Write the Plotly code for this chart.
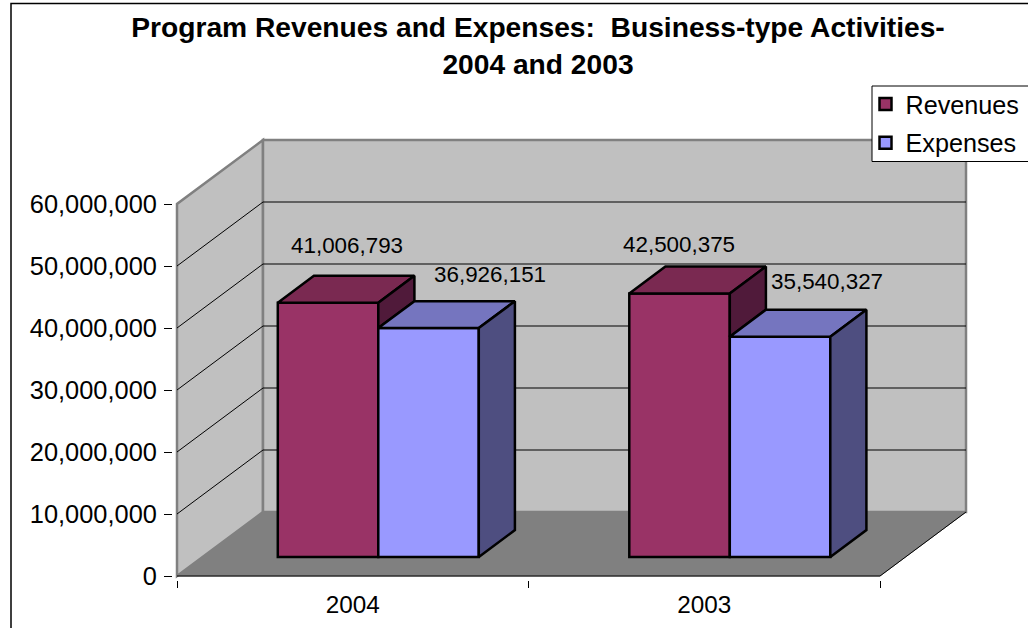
import plotly.graph_objects as go

# ---- data ----
years = ["2004", "2003"]
revenues = [41006793, 42500375]
expenses = [36926151, 35540327]
y_ticks = [0, 10000000, 20000000, 30000000, 40000000, 50000000, 60000000]
title_lines = ["Program Revenues and Expenses:  Business-type Activities-", "2004 and 2003"]

# ---- pseudo-3D geometry (data units) ----
W, H = 1028, 628
PAD = 4                          # px kept around the box so its outline is not clipped
L, R, T, B = 177 - PAD, 966 + PAD, 140 - PAD, 576 + PAD
PX_PER_CAT = 351.5
PX_PER_VAL = 6.2 / 1e6
DX = 86 / PX_PER_CAT            # full depth of the box in x units
DY = 64 / PX_PER_VAL            # full depth of the box in y units
BAR_W = 100.5 / PX_PER_CAT
BAR_FRONT = 0.297               # depth fraction of the bar front face
BAR_DEPTH = 0.42                # depth fraction taken by the bar
X0, X1 = -0.5, 1.5
Y_MAX = max(y_ticks)
BASE = BAR_FRONT * DY
SHIFT = BAR_FRONT * DX


def px_x(px):
    return (px - L) / (R - L)


def px_y(py):
    return (B - py) / (B - T)


def proj(x, y, d):
    return x + d * DX, y + d * DY


def poly(points):
    xs = [p[0] for p in points] + [points[0][0]]
    ys = [p[1] for p in points] + [points[0][1]]
    return xs, ys


def path(points):
    return "M " + " L ".join(f"{x},{y}" for x, y in points) + " Z"


shapes = []
WALL = dict(type="path", xref="x", yref="y", layer="below")
# left wall, back wall, floor
shapes.append(dict(WALL, path=path([proj(X0, 0, 0), proj(X0, Y_MAX, 0), proj(X0, Y_MAX, 1), proj(X0, 0, 1)]),
                   fillcolor="#C0C0C0", line=dict(color="#808080", width=2.5)))
shapes.append(dict(WALL, path=path([proj(X0, 0, 1), proj(X0, Y_MAX, 1), proj(X1, Y_MAX, 1), proj(X1, 0, 1)]),
                   fillcolor="#C0C0C0", line=dict(color="#808080", width=2.5)))
shapes.append(dict(WALL, path=path([proj(X0, 0, 0), proj(X0, 0, 1), proj(X1, 0, 1), proj(X1, 0, 0)]),
                   fillcolor="#808080", line=dict(color="#808080", width=1)))
# gridlines
for v in y_ticks[1:-1]:
    a, b, c = proj(X0, v, 0), proj(X0, v, 1), proj(X1, v, 1)
    shapes.append(dict(type="path", xref="x", yref="y", layer="below",
                       path=f"M {a[0]},{a[1]} L {b[0]},{b[1]} L {c[0]},{c[1]}",
                       line=dict(color="#000000", width=1)))
# front edges and axis lines
a, b = proj(X1, 0, 0), proj(X1, 0, 1)
shapes.append(dict(type="line", xref="x", yref="y", layer="below", x0=a[0], y0=a[1], x1=b[0], y1=b[1],
                   line=dict(color="#000000", width=1)))
shapes.append(dict(type="line", xref="x", yref="y", layer="below", x0=X0, y0=0, x1=X1, y1=0,
                   line=dict(color="#000000", width=1)))
# outer chart border
shapes.append(dict(type="rect", xref="paper", yref="paper", x0=px_x(11), x1=px_x(W + 10), y0=px_y(H + 10), y1=px_y(3.5),
                   line=dict(color="#000000", width=1.5), fillcolor="rgba(0,0,0,0)", layer="below"))
# legend box
shapes.append(dict(type="rect", xref="paper", yref="paper", x0=px_x(872), x1=px_x(W + 10), y0=px_y(161.5), y1=px_y(86),
                   line=dict(color="#000000", width=1), fillcolor="#FFFFFF", layer="above"))

fig = go.Figure()

LINE = dict(color="#000000", width=2.5)
offsets = {"Revenues": SHIFT - BAR_W, "Expenses": SHIFT}
series = [("Revenues", revenues, "#993366", "#7A2951", "#501A3A"),
          ("Expenses", expenses, "#9999FF", "#7575BF", "#4E4E80")]

for i, (name, values, front, top, side) in enumerate(series):
    fig.add_trace(go.Bar(name=name, legendgroup=name, x=[0, 1], y=values, base=BASE,
                         width=BAR_W, offset=offsets[name],
                         marker=dict(color=front, line=LINE)))

for name, values, front, top, side in series:
    for j, v in enumerate(values):
        x0 = j + offsets[name]
        x1 = x0 + BAR_W
        yt = BASE + v
        # the lower bound of a visible side: Revenues' side is hidden below Expenses' top
        yb = BASE + expenses[j] if name == "Revenues" else BASE
        d = BAR_DEPTH
        xs, ys = poly([(x0, yt), proj(x0, yt, d), proj(x1, yt, d), (x1, yt)])
        fig.add_trace(go.Scatter(x=xs, y=ys, mode="lines", fill="toself", fillcolor=top, line=LINE,
                                 showlegend=False, hoverinfo="skip"))
        xs, ys = poly([(x1, yt), proj(x1, yt, d), proj(x1, yb, d), (x1, yb)])
        fig.add_trace(go.Scatter(x=xs, y=ys, mode="lines", fill="toself", fillcolor=side, line=LINE,
                                 showlegend=False, hoverinfo="skip"))

# data labels, manually nudged as in the source chart
nudges = {"Revenues": [(19, 57), (-1, 49)], "Expenses": [(61, 54), (47, 55)]}
annotations = []
for name, values, *_ in series:
    for j, v in enumerate(values):
        xc = j + offsets[name] + BAR_W / 2
        annotations.append(dict(x=xc, y=BASE + v, xref="x", yref="y", text=f"{v:,}", showarrow=False,
                                xshift=nudges[name][j][0], yshift=nudges[name][j][1],
                                font=dict(size=22.4, color="#000000")))

fig.update_layout(
    width=W, height=H,
    margin=dict(l=L, r=W - R, t=T, b=H - B, pad=0, autoexpand=False),
    paper_bgcolor="#FFFFFF", plot_bgcolor="rgba(0,0,0,0)",
    font=dict(family="Liberation Sans, Arial, sans-serif", color="#000000", size=25),
    title=dict(text="<b>" + "<br>".join(title_lines) + "</b>", x=538 / W, xanchor="center",
               y=1 - 37 / H, yanchor="top", font=dict(size=28.2)),
    barmode="overlay",
    shapes=shapes,
    annotations=annotations,
    xaxis=dict(range=[X0 - PAD / PX_PER_CAT, X1 + DX + PAD / PX_PER_CAT], tickvals=[0, 1], ticktext=years,
               ticks="", showgrid=False, zeroline=False,
               showline=False, tickfont=dict(size=24.3), ticklabelstandoff=8,
               minor=dict(tickvals=[-0.5, 0.5, 1.5], ticks="outside", ticklen=7, tickcolor="#000000", tickwidth=1, showgrid=False)),
    yaxis=dict(range=[-PAD / PX_PER_VAL, (576 - 140 + PAD) / PX_PER_VAL], tickvals=y_ticks, tickformat=",",
               ticks="outside", ticklen=8,
               tickcolor="#000000", tickwidth=1, showgrid=False, zeroline=False, showline=False,
               ticklabelstandoff=2, tickfont=dict(size=25.4)),
    legend=dict(x=px_x(865.5), y=px_y(81), xanchor="left", yanchor="top", bgcolor="rgba(0,0,0,0)",
                borderwidth=0, font=dict(size=25.2), tracegroupgap=3,
                traceorder="grouped", itemclick=False, itemdoubleclick=False),
)

fig.write_html("out.html", config=dict(displayModeBar=False), post_script="document.body.style.margin='0';")
